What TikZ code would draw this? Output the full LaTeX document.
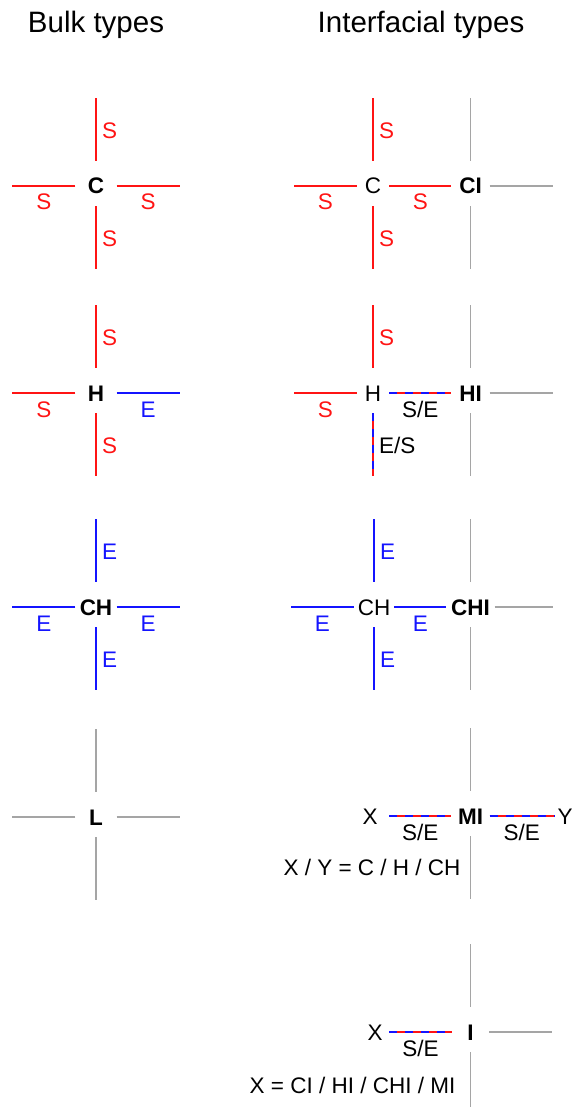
\documentclass[tikz,border=0pt]{standalone}
\usepackage{fontspec}
\setmainfont{Liberation Sans}
\definecolor{myred}{RGB}{255,20,20}
\definecolor{myblue}{RGB}{20,20,255}
\definecolor{mygray}{RGB}{165,165,165}
\tikzset{
  lbl/.style={font=\fontsize{22.5}{25}\selectfont, inner sep=0pt},
  head/.style={lbl, font=\fontsize{29.5}{33}\selectfont, anchor=base},
  formula/.style={lbl, font=\fontsize{22.5}{25}\selectfont, anchor=base},
  mainb/.style={lbl, font=\fontsize{22.5}{25}\selectfont\bfseries, minimum height=45pt, text height=16pt, text depth=0pt},
  mainp/.style={lbl, minimum height=45pt, text height=16pt, text depth=0pt},
  sline/.style={color=myred, line width=2pt},
  eline/.style={color=myblue, line width=2pt},
  gline/.style={draw=mygray, line width=1.2pt},
  seline/.style={draw=myred, line width=2pt, postaction={draw=myblue, dash pattern=on 8pt off 8pt}},
  hl/.style={lbl, anchor=base, yshift=-24pt},
  vl/.style={lbl, anchor=base west, xshift=5pt, yshift=-9pt}
}
\begin{document}
\begin{tikzpicture}[x=1pt,y=-1pt]
\useasboundingbox (0,0) rectangle (575,1107);
\node[head] (hbulk) at (96,33) {Bulk types};
\node[head] (hint) at (421,33) {Interfacial types};

% ---- Bulk C
\node[mainb, minimum width=41pt] (Cb) at (96,186) {C};
\draw[sline] ([yshift=2.5pt]Cb.north) -- ++(0,-63) node[vl,midway]{S};
\draw[sline] ([yshift=2.5pt]Cb.south) -- ++(0,63) node[vl,midway]{S};
\draw[sline] (Cb.west) -- ++(-63,0) node[hl,midway]{S};
\draw[sline] (Cb.east) -- ++(63,0) node[hl,midway]{S};

% ---- Bulk H
\node[mainb, minimum width=41pt] (Hb) at (96,393) {H};
\draw[sline] ([yshift=2.5pt]Hb.north) -- ++(0,-63) node[vl,midway]{S};
\draw[sline] ([yshift=2.5pt]Hb.south) -- ++(0,63) node[vl,midway]{S};
\draw[sline] (Hb.west) -- ++(-63,0) node[hl,midway]{S};
\draw[eline] (Hb.east) -- ++(63,0) node[hl,midway]{E};

% ---- Bulk CH
\node[mainb, minimum width=41pt] (CHb) at (96,607) {CH};
\draw[eline] ([yshift=2.5pt]CHb.north) -- ++(0,-63) node[vl,midway]{E};
\draw[eline] ([yshift=2.5pt]CHb.south) -- ++(0,63) node[vl,midway]{E};
\draw[eline] (CHb.west) -- ++(-63,0) node[hl,midway]{E};
\draw[eline] (CHb.east) -- ++(63,0) node[hl,midway]{E};

% ---- Bulk L
\node[mainb, minimum width=41pt] (Lb) at (96,817) {L};
\draw[gline] ([yshift=2.5pt]Lb.north) -- ++(0,-63);
\draw[gline] ([yshift=2.5pt]Lb.south) -- ++(0,63);
\draw[gline] (Lb.west) -- ++(-63,0);
\draw[gline] (Lb.east) -- ++(63,0);

% ---- Interfacial C / CI
\node[mainp, minimum width=32pt] (C2) at (373,186) {C};
\node[mainb, minimum width=38pt] (CI) at (470.5,186) {CI};
\draw[sline] ([yshift=2.5pt]C2.north) -- ++(0,-63) node[vl,midway]{S};
\draw[sline] ([yshift=2.5pt]C2.south) -- ++(0,63) node[vl,midway]{S};
\draw[sline] (C2.west) -- ++(-63,0) node[hl,midway]{S};
\draw[sline] (C2) -- node[hl]{S} (CI);
\draw[gline] ([yshift=2.5pt]CI.north) -- ++(0,-63);
\draw[gline] ([yshift=2.5pt]CI.south) -- ++(0,63);
\draw[gline] (CI.east) -- ++(63,0);

% ---- Interfacial H / HI
\node[mainp, minimum width=32pt] (H2) at (373,393) {H};
\node[mainb, minimum width=38pt] (HI) at (470.5,393) {HI};
\draw[sline] ([yshift=2.5pt]H2.north) -- ++(0,-63) node[vl,midway]{S};
\draw[seline] ([yshift=2.5pt]H2.south) -- ++(0,63) node[vl,midway]{E/S};
\draw[sline] (H2.west) -- ++(-63,0) node[hl,midway]{S};
\draw[seline] (H2) -- node[hl]{S/E} (HI);
\draw[gline] ([yshift=2.5pt]HI.north) -- ++(0,-63);
\draw[gline] ([yshift=2.5pt]HI.south) -- ++(0,63);
\draw[gline] (HI.east) -- ++(63,0);

% ---- Interfacial CH / CHI
\node[mainp, minimum width=40pt] (CH2) at (374,607) {CH};
\node[mainb, minimum width=48pt] (CHI) at (470.5,607) {CHI};
\draw[eline] ([yshift=2.5pt]CH2.north) -- ++(0,-63) node[vl,midway]{E};
\draw[eline] ([yshift=2.5pt]CH2.south) -- ++(0,63) node[vl,midway]{E};
\draw[eline] (CH2.west) -- ++(-63,0) node[hl,midway]{E};
\draw[eline] (CH2) -- node[hl]{E} (CHI);
\draw[gline] ([yshift=2.5pt]CHI.north) -- ++(0,-63);
\draw[gline] ([yshift=2.5pt]CHI.south) -- ++(0,63);
\draw[gline] (CHI.east) -- ++(58,0);

% ---- MI
\node[mainp, minimum width=38pt] (X1) at (370,816) {X};
\node[mainb, minimum width=38pt] (MI) at (470.5,816) {MI};
\node[mainp, minimum width=22pt] (Y1) at (565,816) {Y};
\draw[seline] (X1) -- node[hl]{S/E} (MI);
\draw[seline] (MI) -- node[hl]{S/E} (Y1);
\draw[gline] ([yshift=2.5pt]MI.north) -- ++(0,-63);
\draw[gline] ([yshift=2.5pt]MI.south) -- ++(0,63);
\node[formula] (f1) at (372,875) {X / Y = C / H / CH};

% ---- I
\node[mainp, minimum width=28pt] (X2) at (375,1032) {X};
\node[mainb, minimum width=37pt] (In) at (470.5,1032) {I};
\draw[seline] (X2) -- node[hl]{S/E} (In);
\draw[gline] ([yshift=2.5pt]In.north) -- ++(0,-63);
\draw[gline] ([yshift=2.5pt]In.south) -- ++(0,55);
\draw[gline] (In.east) -- ++(63,0);
\node[formula] (f2) at (352.5,1093) {X = CI / HI / CHI / MI};
\end{tikzpicture}
\end{document}
